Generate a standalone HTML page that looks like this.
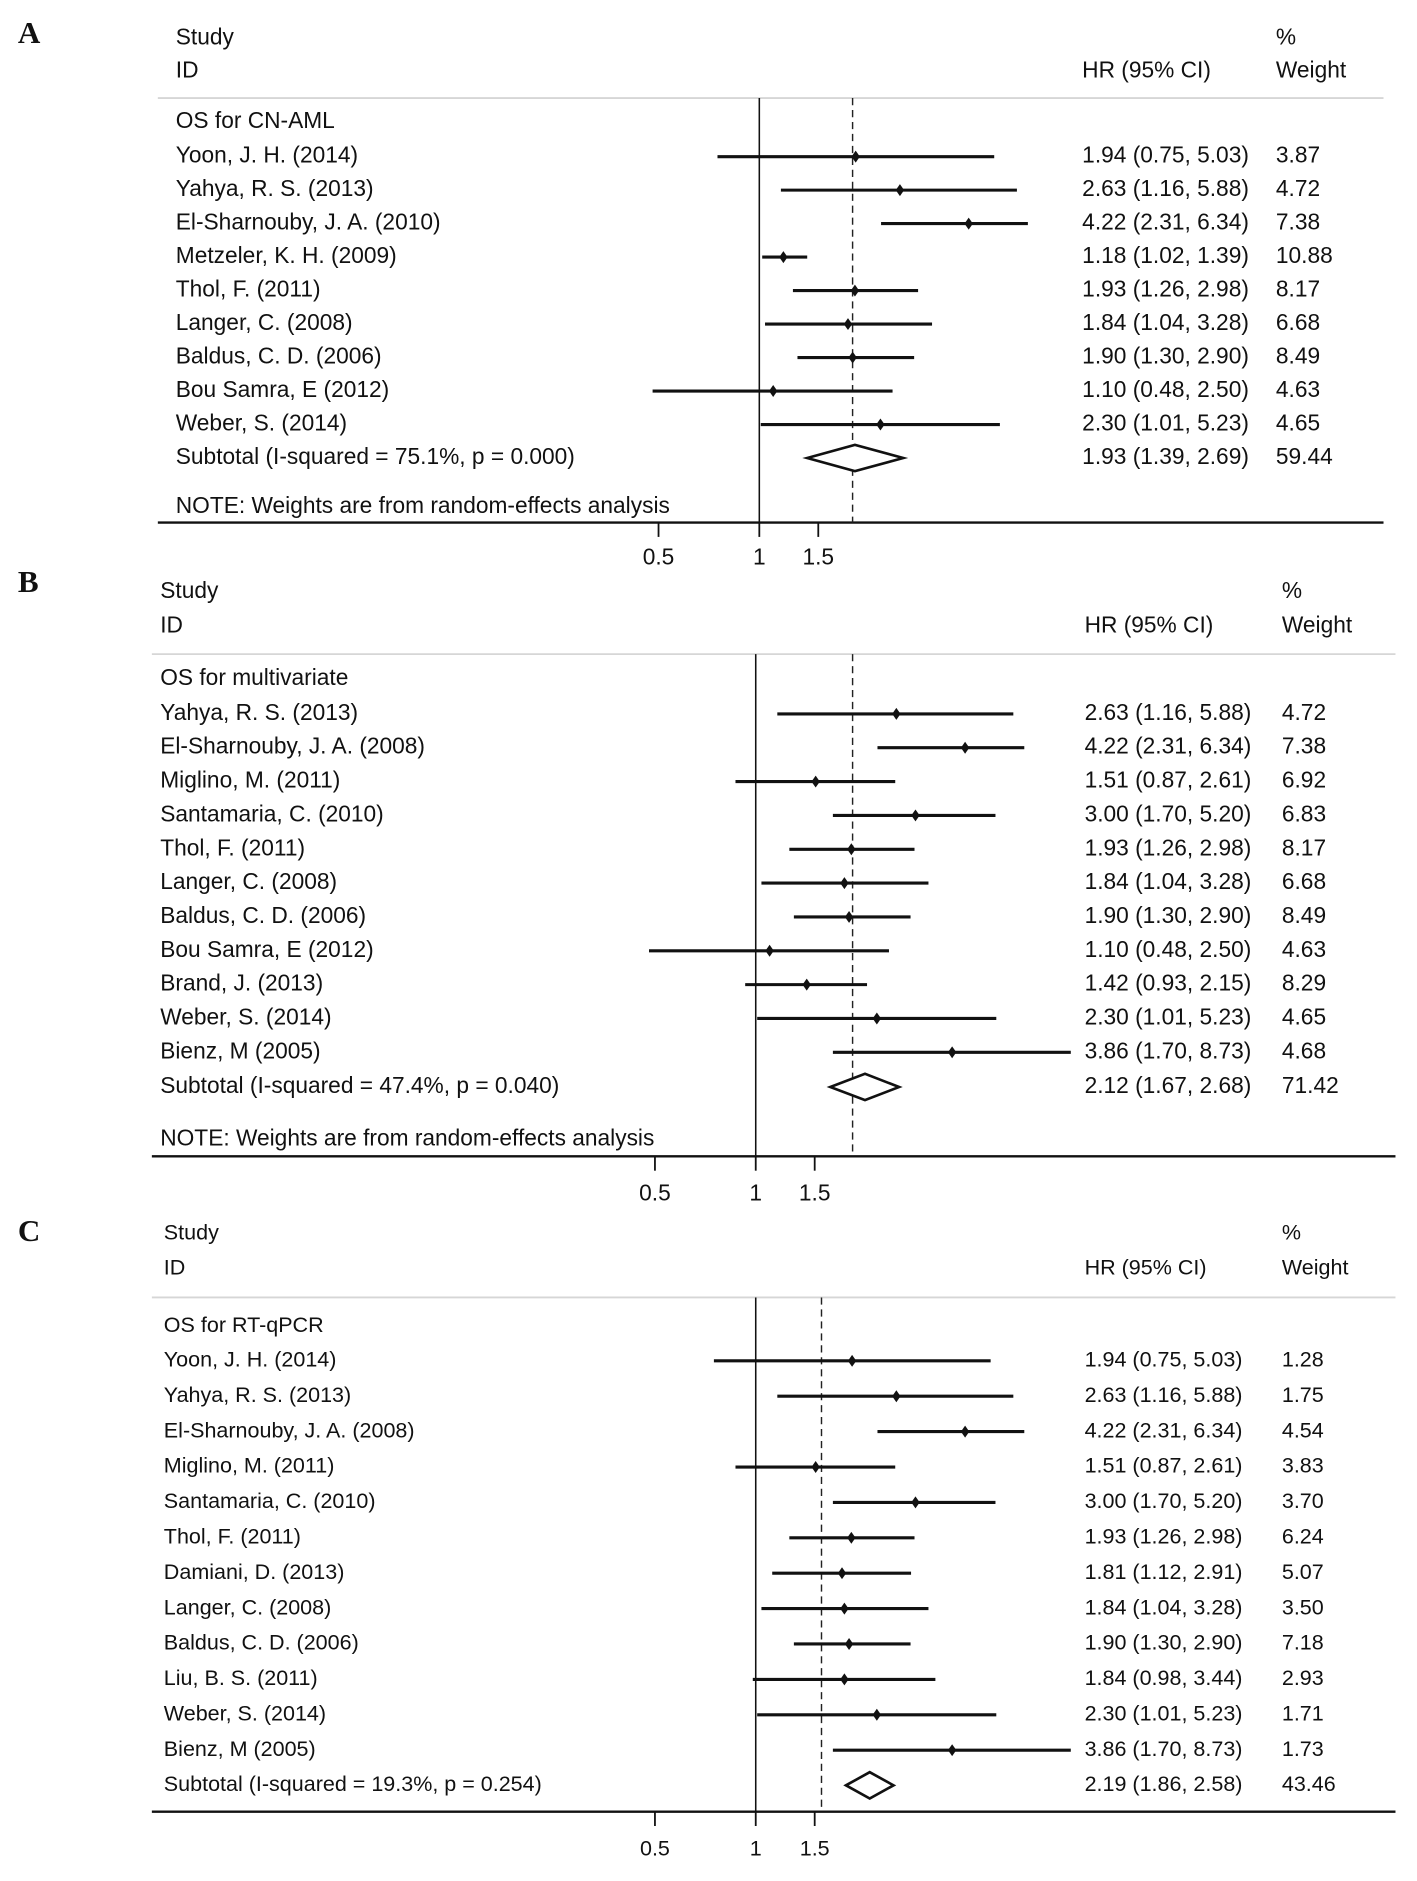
<!DOCTYPE html>
<html><head><meta charset="utf-8"><style>
html,body{margin:0;padding:0;background:#fff;}
svg{display:block;}
text{font-family:"Liberation Sans",Arial,sans-serif;fill:#111;}
</style></head>
<body>
<svg id="chart" width="1417" height="1881" viewBox="0 0 1185 1573" preserveAspectRatio="none" xmlns="http://www.w3.org/2000/svg"><g id="root" transform="translate(2,2)"></g></svg>
<script>
// Panel A data
const studiesA = ["Yoon, J. H. (2014)","Yahya, R. S. (2013)","El-Sharnouby, J. A. (2010)","Metzeler, K. H. (2009)","Thol, F. (2011)","Langer, C. (2008)","Baldus, C. D. (2006)","Bou Samra, E (2012)","Weber, S. (2014)"];
const hrA = [1.94,2.63,4.22,1.18,1.93,1.84,1.90,1.10,2.30];
const loA = [0.75,1.16,2.31,1.02,1.26,1.04,1.30,0.48,1.01];
const hiA = [5.03,5.88,6.34,1.39,2.98,3.28,2.90,2.50,5.23];
const wA = ["3.87","4.72","7.38","10.88","8.17","6.68","8.49","4.63","4.65"];
const subA = [1.93,1.39,2.69]; const subWA = "59.44";
const subLabelA = "Subtotal  (I-squared = 75.1%, p = 0.000)";
// Panel B data
const studiesB = ["Yahya, R. S. (2013)","El-Sharnouby, J. A. (2008)","Miglino, M. (2011)","Santamaria, C. (2010)","Thol, F. (2011)","Langer, C. (2008)","Baldus, C. D. (2006)","Bou Samra, E (2012)","Brand, J. (2013)","Weber, S. (2014)","Bienz, M (2005)"];
const hrB = [2.63,4.22,1.51,3.00,1.93,1.84,1.90,1.10,1.42,2.30,3.86];
const loB = [1.16,2.31,0.87,1.70,1.26,1.04,1.30,0.48,0.93,1.01,1.70];
const hiB = [5.88,6.34,2.61,5.20,2.98,3.28,2.90,2.50,2.15,5.23,8.73];
const wB = ["4.72","7.38","6.92","6.83","8.17","6.68","8.49","4.63","8.29","4.65","4.68"];
const subB = [2.12,1.67,2.68]; const subWB = "71.42";
const subLabelB = "Subtotal  (I-squared = 47.4%, p = 0.040)";
// Panel C data
const studiesC = ["Yoon, J. H. (2014)","Yahya, R. S. (2013)","El-Sharnouby, J. A. (2008)","Miglino, M. (2011)","Santamaria, C. (2010)","Thol, F. (2011)","Damiani, D. (2013)","Langer, C. (2008)","Baldus, C. D. (2006)","Liu, B. S. (2011)","Weber, S. (2014)","Bienz, M (2005)"];
const hrC = [1.94,2.63,4.22,1.51,3.00,1.93,1.81,1.84,1.90,1.84,2.30,3.86];
const loC = [0.75,1.16,2.31,0.87,1.70,1.26,1.12,1.04,1.30,0.98,1.01,1.70];
const hiC = [5.03,5.88,6.34,2.61,5.20,2.98,2.91,3.28,2.90,3.44,5.23,8.73];
const wC = ["1.28","1.75","4.54","3.83","3.70","6.24","5.07","3.50","7.18","2.93","1.71","1.73"];
const subC = [2.19,1.86,2.58]; const subWC = "43.46";
const subLabelC = "Subtotal  (I-squared = 19.3%, p = 0.254)";
const tickVals = [0.5,1,1.5];
const tickLabels = ["0.5","1","1.5"];

const root = document.getElementById('root');
const NS = "http://www.w3.org/2000/svg";
function mk(tag, attrs, parent){
  const e = document.createElementNS(NS, tag);
  for (const k in attrs) e.setAttribute(k, attrs[k]);
  (parent||root).appendChild(e); return e;
}
function txt(x,y,s,size,parent,anchor){
  const t = mk('text',{x:x,y:y,'font-size':size,'dominant-baseline':'middle','text-anchor':anchor||'start'},parent);
  t.textContent = s; return t;
}
function fmt(h,l,u){return h.toFixed(2)+" ("+l.toFixed(2)+", "+u.toFixed(2)+")";}

function panel(cfg, studies, hr, lo, hi, w, sub, subW, subLabel){
  const g = mk('g',{});
  
  
  const xs = v => cfg.x1 + cfg.dec * Math.log10(v);
  const fs = cfg.fs;
  const lab = mk('text',{x:13,y:cfg.labelY,'font-size':26,'font-weight':'bold','dominant-baseline':'middle',style:'font-family:"Liberation Serif",serif'},g);
  lab.textContent = cfg.letter;
  
  
  const h1 = txt(cfg.studyX, cfg.studyY, "Study", fs, g);
   
  txt(cfg.studyX, cfg.idY, "ID", fs, g);
  const h2 = txt(cfg.hrX, cfg.idY, "HR (95% CI)", fs, g);
   
  txt(cfg.wX, cfg.studyY, "%", fs, g);
  const h3 = txt(cfg.wX, cfg.idY, "Weight", fs, g);
   
  mk('line',{x1:cfg.l0,x2:cfg.l1,y1:cfg.top,y2:cfg.top,stroke:'#d6d6d6','stroke-width':1.5},g);
  const ax = mk('line',{x1:cfg.l0,x2:cfg.l1,y1:cfg.axisY,y2:cfg.axisY,stroke:'#111','stroke-width':2},g);
   
  const nl = mk('line',{x1:xs(1),x2:xs(1),y1:cfg.top,y2:cfg.axisY,stroke:'#111','stroke-width':1.3},g);
   
  const dl = mk('line',{x1:cfg.dash,x2:cfg.dash,y1:cfg.top,y2:cfg.axisY,stroke:'#222','stroke-width':1.2,'stroke-dasharray':'6,4'},g);
   
  tickVals.forEach((v,i)=>{
    const tk = mk('line',{x1:xs(v),x2:xs(v),y1:cfg.axisY,y2:cfg.axisY+12,stroke:'#111','stroke-width':1.5},g);
     
    const tl = txt(xs(v), cfg.tickY, tickLabels[i], fs, g, 'middle');
     
  });
  const hd = txt(cfg.studyX, cfg.headY, cfg.heading, fs, g);
   
  studies.forEach((s,i)=>{
    const y = cfg.row0 + i*cfg.step;
    const st = txt(cfg.studyX, y, s, fs, g);
     
    const ci = mk('line',{x1:xs(lo[i]),x2:xs(hi[i]),y1:y,y2:y,stroke:'#111','stroke-width':2.6},g);
     
    const x = xs(hr[i]);
    const pt = mk('polygon',{points:`${x},${y-5} ${x+3.5},${y} ${x},${y+5} ${x-3.5},${y}`,fill:'#111'},g);
     
    const hv = txt(cfg.hrX, y, fmt(hr[i],lo[i],hi[i]), fs, g);
     
    const wv = txt(cfg.wX, y, w[i], fs, g);
     
  });
  const y = cfg.subY;
  const sl = txt(cfg.studyX, y, subLabel, fs, g);
   
  const a = xs(sub[1]), b = xs(sub[2]), c = xs(sub[0]);
  const dm = mk('polygon',{points:`${a},${y} ${c},${y-11} ${b},${y} ${c},${y+11}`,fill:'#fff',stroke:'#111','stroke-width':2.2},g);
   
  txt(cfg.hrX, y, fmt(sub[0],sub[1],sub[2]), fs, g);
  txt(cfg.wX, y, subW, fs, g);
  if (cfg.noteY){
    const nt = txt(cfg.studyX, cfg.noteY, "NOTE: Weights are from random-effects analysis", fs, g);
     
  }
}

panel({name:'panel-a',letter:'A',x1:633,dec:280,dash:711,top:80,axisY:435,headY:100,row0:129,step:28,subY:381,noteY:422,tickY:465,studyX:145,hrX:903,wX:1065,l0:130,l1:1155,studyY:30,idY:58,labelY:28,fs:19,heading:'OS for CN-AML'},
  studiesA,hrA,loA,hiA,wA,subA,subWA,subLabelA);
panel({name:'panel-b',letter:'B',x1:630,dec:280,dash:711,top:545,axisY:965,headY:566,row0:595,step:28.3,subY:907,noteY:951,tickY:997,studyX:132,hrX:905,wX:1070,l0:125,l1:1165,studyY:493,idY:522,labelY:487,fs:19,heading:'OS for multivariate'},
  studiesB,hrB,loB,hiB,wB,subB,subWB,subLabelB);
panel({name:'panel-c',letter:'C',x1:630,dec:280,dash:685,top:1083,axisY:1513,headY:1107,row0:1136,step:29.6,subY:1491,noteY:0,tickY:1545,studyX:135,hrX:905,wX:1070,l0:125,l1:1165,studyY:1030,idY:1059,labelY:1030,fs:18,heading:'OS for RT-qPCR'},
  studiesC,hrC,loC,hiC,wC,subC,subWC,subLabelC);
</script>
</body></html>
